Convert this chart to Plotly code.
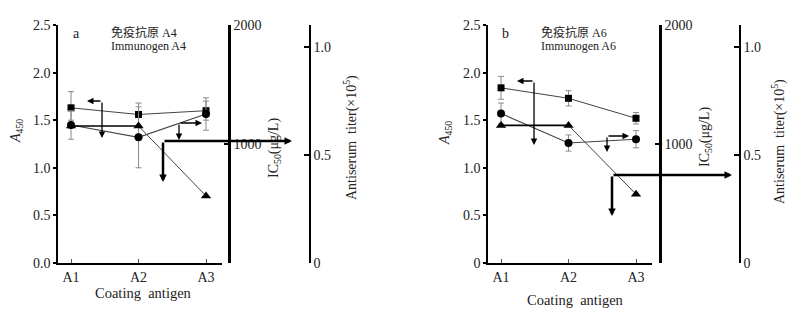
import plotly.graph_objects as go

W, H = 799, 317

# ---------------- data ----------------
categories = ["A1", "A2", "A3"]
xpos = [0, 1, 2]

# Panel a: immunogen A4
a_A450 = [1.63, 1.56, 1.60]
a_A450_err_plus = [0.17, 0.12, 0.10]
a_A450_err_minus = [0.13, 0.12, 0.10]
a_IC50 = [1160, 1056, 1252]
a_IC50_err = [120, 256, 136]
a_titer = [0.633, 0.633, 0.31]

# Panel b: immunogen A6
b_A450 = [1.84, 1.73, 1.52]
b_A450_err = [0.12, 0.08, 0.06]
b_IC50 = [1256, 1008, 1040]
b_IC50_err = [88, 68, 72]
b_titer = [0.636, 0.636, 0.318]

A450_ticks = [0, 0.5, 1.0, 1.5, 2.0, 2.5]
a_A450_ticktext = ["0.0", "0.5", "1.0", "1.5", "2.0", "2.5"]
b_A450_ticktext = ["0", "0.5", "1.0", "1.5", "2.0", "2.5"]
IC50_ticks = [0, 1000, 2000]
IC50_ticktext = ["", "1000", "2000"]
titer_ticks = [0, 0.5, 1.0]
titer_ticktext = ["0", "0.5", "1.0"]

FONT = "'Liberation Serif', 'Times New Roman', 'DejaVu Serif', 'Noto Sans CJK SC', serif"
TXT = "#222222"
TICKSIZE = 14


def px(x):
    return x / W


def py(y):
    return 1 - y / H


fig = go.Figure()


def add_panel(p, x0px, x1px, ic_px, ti_px, A450, ep, em, IC50, icerr, titer,
              a450_text, label, zh, en, lab_pos):
    xa = "x" if p == 0 else "x2"
    yl = ["y", "y2", "y3"] if p == 0 else ["y4", "y5", "y6"]
    err_style = dict(type="data", color="#8a8a8a", thickness=1, width=3)
    # squares -> A450
    fig.add_trace(go.Scatter(
        x=xpos, y=A450, xaxis=xa, yaxis=yl[0], mode="lines+markers",
        line=dict(color="#444", width=1),
        marker=dict(symbol="square", size=7, color="black"),
        error_y=dict(array=ep, arrayminus=em, symmetric=False, **err_style)))
    # circles -> IC50
    fig.add_trace(go.Scatter(
        x=xpos, y=IC50, xaxis=xa, yaxis=yl[1], mode="lines+markers",
        line=dict(color="#444", width=1.1),
        marker=dict(symbol="circle", size=8, color="black"),
        error_y=dict(array=icerr, **err_style)))
    # triangles -> antiserum titer
    fig.add_trace(go.Scatter(
        x=xpos[:2], y=titer[:2], xaxis=xa, yaxis=yl[2], mode="lines",
        line=dict(color="black", width=1.6)))
    fig.add_trace(go.Scatter(
        x=xpos[1:], y=titer[1:], xaxis=xa, yaxis=yl[2], mode="lines",
        line=dict(color="#444", width=1)))
    fig.add_trace(go.Scatter(
        x=xpos, y=titer, xaxis=xa, yaxis=yl[2], mode="markers",
        marker=dict(symbol="triangle-up", size=9, color="black")))

    ydom = [py(263), py(25)]
    xkey = "xaxis" if p == 0 else "xaxis2"
    fig.layout[xkey] = dict(
        domain=[px(x0px), px(x1px)], range=[-0.193, 2.237],
        anchor=yl[0], tickvals=xpos, ticktext=categories,
        ticks="inside", ticklen=4, tickwidth=1, tickcolor="#555",
        showline=True, linecolor="black", linewidth=2.2,
        showgrid=False, zeroline=False, automargin=False,
        tickfont=dict(family=FONT, size=TICKSIZE, color=TXT))
    k = ["yaxis", "yaxis2", "yaxis3"] if p == 0 else ["yaxis4", "yaxis5", "yaxis6"]
    fig.layout[k[0]] = dict(
        domain=ydom, range=[0, 2.5], anchor=xa,
        tickvals=A450_ticks, ticktext=a450_text,
        ticks="outside", ticklen=3, tickwidth=1.5, tickcolor="black",
        showline=True, linecolor="black", linewidth=1.6,
        showgrid=False, zeroline=False, automargin=False,
        tickfont=dict(family=FONT, size=TICKSIZE, color=TXT))
    fig.layout[k[1]] = dict(
        domain=ydom, range=[0, 2000], overlaying=yl[0], anchor="free",
        position=px(ic_px), side="right",
        tickvals=IC50_ticks, ticktext=IC50_ticktext,
        ticks="inside", ticklen=4, tickwidth=1.5, tickcolor="black",
        showline=True, linecolor="black", linewidth=2.6,
        showgrid=False, zeroline=False, automargin=False,
        tickfont=dict(family=FONT, size=TICKSIZE, color=TXT))
    fig.layout[k[2]] = dict(
        domain=ydom, range=[0, 1.1], overlaying=yl[0], anchor="free",
        position=px(ti_px), side="right",
        tickvals=titer_ticks, ticktext=titer_ticktext,
        ticks="inside", ticklen=5, tickwidth=1.5, tickcolor="black",
        showline=True, linecolor="black", linewidth=1.5,
        showgrid=False, zeroline=False, automargin=False,
        tickfont=dict(family=FONT, size=TICKSIZE, color=TXT))

    # text labels
    lp = lab_pos
    anns = [
        dict(text=label, x=px(lp["lab"][0]), y=py(lp["lab"][1]), size=14, xanchor="center", angle=0),
        dict(text=zh, x=px(lp["zh"][0]), y=py(lp["zh"][1]), size=12, xanchor="left", angle=0),
        dict(text=en, x=px(lp["en"][0]), y=py(lp["en"][1]), size=12, xanchor="left", angle=0),
        dict(text="<i>A</i><sub>450</sub>", x=px(lp["a450"][0]), y=py(lp["a450"][1]), size=14, xanchor="center", angle=-90),
        dict(text="Coating  antigen", x=px(lp["coat"][0]), y=py(lp["coat"][1]), size=14.5, xanchor="center", angle=0),
        dict(text="IC<sub>50</sub>(μg/L)", x=px(lp["ic"][0]), y=py(lp["ic"][1]), size=14, xanchor="center", angle=-90),
        dict(text="Antiserum  titer(×10<sup>5</sup>)", x=px(lp["ti"][0]), y=py(lp["ti"][1]), size=14, xanchor="center", angle=-90),
    ]
    for a in anns:
        fig.add_annotation(text=a["text"], x=a["x"], y=a["y"], xref="paper", yref="paper",
                           xanchor=a["xanchor"], yanchor="middle", textangle=a["angle"],
                           showarrow=False, font=dict(family=FONT, size=a["size"], color=TXT))

    # elbow arrows (tail = corner, head = arrow tip), in A450 data coordinates
    ylab = yl[0]
    for (cx, cy, hx, hy, w) in lp["arrows"]:
        fig.add_annotation(x=hx, y=hy, ax=cx, ay=cy, xref=xa, yref=ylab, axref=xa, ayref=ylab,
                           text="", showarrow=True, arrowhead=2,
                           arrowsize=1 if w < 2 else 0.6, arrowwidth=w, arrowcolor="black",
                           standoff=0, startstandoff=0)


def dx(pxv, a1):
    return (pxv - a1) / 67.5


def dy(pyv):
    return (263 - pyv) / 95.2


pos_a = dict(
    lab=(76, 33), zh=(109, 32), en=(109, 46), a450=(16, 131), coat=(143, 293),
    ic=(274, 148), ti=(350, 138),
    arrows=[
        (dx(102, 71), dy(101), dx(87, 71), dy(101), 1.3),
        (dx(102, 71), dy(101), dx(102, 71), dy(138), 1.3),
        (dx(179, 71), dy(123), dx(202, 71), dy(123), 1.3),
        (dx(179, 71), dy(123), dx(179, 71), dy(140), 1.3),
        (dx(163, 71), dy(141), dx(292, 71), dy(141), 2.5),
        (dx(163, 71), dy(141), dx(163, 71), dy(182), 2.5),
    ])
pos_b = dict(
    lab=(505, 33), zh=(539, 32), en=(539, 46), a450=(445, 133), coat=(575, 300),
    ic=(705, 137), ti=(778, 142),
    arrows=[
        (dx(534, 501), dy(81), dx(517, 501), dy(81), 1.3),
        (dx(534, 501), dy(81), dx(534, 501), dy(145), 1.3),
        (dx(607, 501), dy(136), dx(629, 501), dy(136), 1.3),
        (dx(607, 501), dy(136), dx(607, 501), dy(152), 1.3),
        (dx(612, 501), dy(175), dx(732, 501), dy(175), 2.5),
        (dx(612, 501), dy(175), dx(612, 501), dy(216), 2.5),
    ])

add_panel(0, 58, 222, 229, 310, a_A450, a_A450_err_plus, a_A450_err_minus,
          a_IC50, a_IC50_err, a_titer, a_A450_ticktext, "a", "免疫抗原 A4", "Immunogen A4", pos_a)
add_panel(1, 488, 652, 660, 740, b_A450, b_A450_err, b_A450_err,
          b_IC50, b_IC50_err, b_titer, b_A450_ticktext, "b", "免疫抗原 A6", "Immunogen A6", pos_b)

fig.update_layout(width=W, height=H, margin=dict(l=0, r=0, t=0, b=0, autoexpand=False),
                  paper_bgcolor="white", plot_bgcolor="white", showlegend=False,
                  font=dict(family=FONT, color=TXT))

fig.write_html("out.html", config={"displayModeBar": False},
               post_script="document.body.style.margin='0';document.body.style.overflow='hidden';")
